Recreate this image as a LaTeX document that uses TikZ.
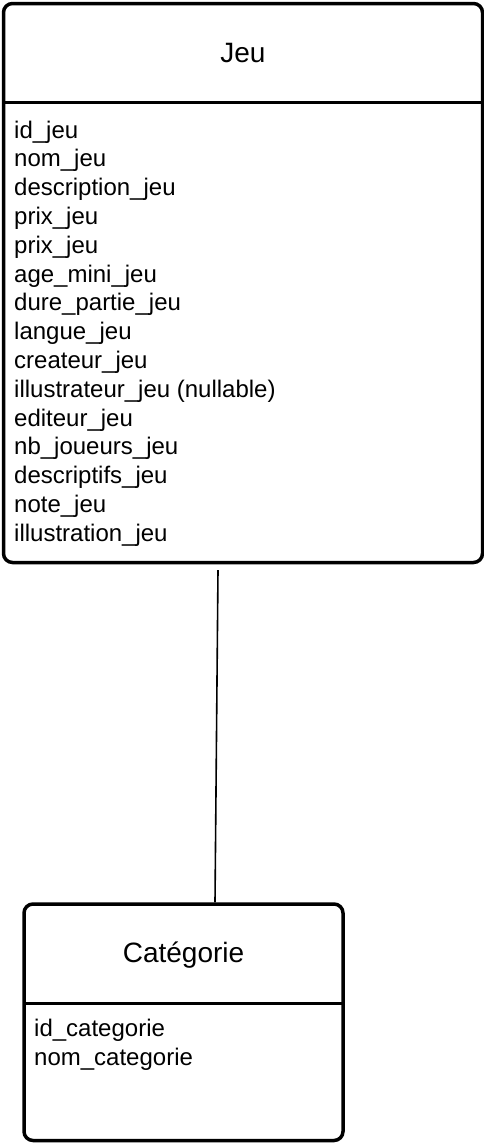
\documentclass[tikz,border=0pt]{standalone}
\usepackage{fontspec}
\setmainfont{Liberation Sans}
\begin{document}
\begin{tikzpicture}[x=1pt,y=-1pt,
  entity/.style={draw=black,line width=3.5pt,rounded corners=9pt,inner sep=0pt,fill=white},
  sepline/.style={line width=3.5pt},
  title/.style={font=\fontsize{28}{33}\selectfont,anchor=base,inner sep=0pt},
  attr/.style={font=\fontsize{24}{28.8}\selectfont,anchor=base west,inner sep=0pt},
  link/.style={line width=1.6pt}]
\useasboundingbox (0,0) rectangle (484,1144);
% Jeu
\node[entity,minimum width=479pt,minimum height=559pt] (jeu) at (243,283) {};
\draw[sepline] (3.5,102.5) -- (482.5,102.5);
\node[title] (jeut) at (243,62) {Jeu};
\foreach \t [count=\i from 0] in {id\_jeu,nom\_jeu,description\_jeu,prix\_jeu,prix\_jeu,age\_mini\_jeu,dure\_partie\_jeu,langue\_jeu,createur\_jeu,illustrateur\_jeu (nullable),editeur\_jeu,nb\_joueurs\_jeu,descriptifs\_jeu,note\_jeu,illustration\_jeu}
  \node[attr] (ja\i) at (14,138+28.8*\i) {\t};
% Categorie
\node[entity,minimum width=319pt,minimum height=236.5pt] (cat) at (183.5,1022.25) {};
\draw[sepline] (24,1003.5) -- (343,1003.5);
\node[title] (catt) at (183.5,962) {Catégorie};
\node[attr] (ca0) at (34,1036.5) {id\_categorie};
\node[attr] (ca1) at (34,1065) {nom\_categorie};
% connector
\coordinate (c1) at (218,570);
\coordinate (c2) at (cat.north -| 215,0);
\draw[link] (c1) -- (c2);
\end{tikzpicture}
\end{document}
